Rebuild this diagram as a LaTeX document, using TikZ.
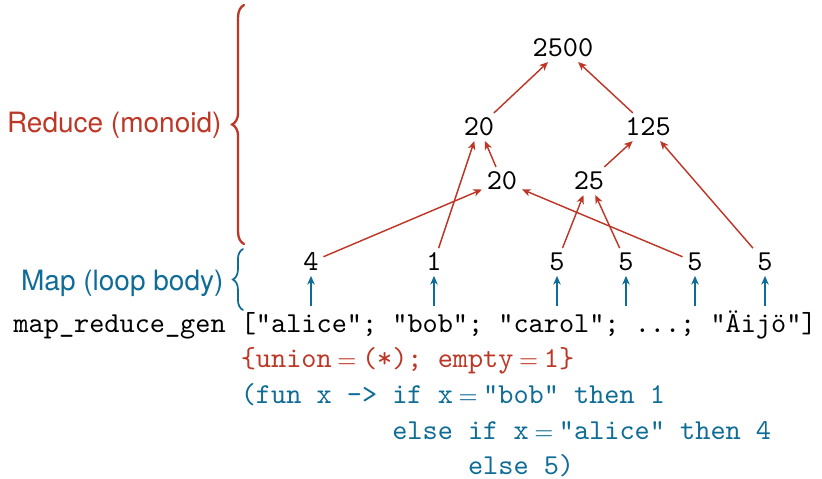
\documentclass[tikz,border=0pt]{standalone}
\usepackage{fontspec}
\newfontfamily\labelfont{TeX Gyre Heros}
\usetikzlibrary{arrows.meta,decorations.pathreplacing}
\definecolor{redc}{RGB}{189,55,38}
\definecolor{bluec}{RGB}{14,108,150}
\newcommand{\eqs}{\makebox[1.05em]{\fontsize{8.5}{8.5}\selectfont$=$}}
\begin{document}
\begin{tikzpicture}[x=0.3465pt,y=-0.3465pt,
  num/.style={font=\ttfamily, inner sep=1.5pt},
  code/.style={font=\ttfamily, inner sep=0pt, anchor=base west},
  lbl/.style={font=\labelfont\fontsize{9.7}{11}\selectfont, inner sep=0pt, anchor=base east},
  redarrow/.style={draw=redc, line width=0.5pt, -{Stealth[length=3pt,width=2.6pt,inset=0.9pt]}},
  bluearrow/.style={draw=bluec, line width=0.55pt, -{Stealth[length=3pt,width=2.6pt,inset=0.9pt]}},
  bracestyle/.style={decorate, line cap=round}]
\useasboundingbox (0,0) rectangle (822,478);

% tree numbers
\node[num] (top) at (563,48) {2500};
\node[num] (l) at (479,127) {20};
\node[num] (r) at (648,127) {125};
\node[num] (m) at (502,181) {20};
\node[num] (q) at (589,181) {25};
\node[num] (b1) at (311,262) {4};
\node[num] (b2) at (434,262) {1};
\node[num] (b3) at (557,262) {5};
\node[num] (b4) at (626,262) {5};
\node[num] (b5) at (695,262) {5};
\node[num] (b6) at (765,262) {5};

% reduce arrows
\draw[redarrow] (b1) -- (m);
\draw[redarrow] (b2) -- (l);
\draw[redarrow] (m) -- (l);
\draw[redarrow] (l) -- (top);
\draw[redarrow] (r) -- (top);
\draw[redarrow] (q) -- (r);
\draw[redarrow] (b3) -- (q);
\draw[redarrow] (b4) -- (q);
\draw[redarrow] (b5) -- (m);
\draw[redarrow] (b6) -- (r);

% map arrows
\foreach \i/\x in {1/311,2/434,3/557,4/626,5/695,6/765}{
  \coordinate (s\i) at (\x,306);
  \draw[bluearrow] (s\i) -- (b\i);
}

% code
\node[code] (c1) at (13,332) {map\_reduce\_gen ["alice"; "bob"; "carol"; ...; "Äijö"]};
\node[code, text=redc] (c2) at (240.25,367.5) {\{union\eqs(*); empty\eqs{}1\}};
\node[code, text=bluec] (c3) at (240.25,403) {(fun x -> if x\eqs"bob" then 1};
\node[code, text=bluec] (c4) at (391.75,439) {else if x\eqs"alice" then 4};
\node[code, text=bluec] (c5) at (467.5,474.5) {else 5)};

% braces
\coordinate (rb1) at (244,244);
\coordinate (rb2) at (244,5);
\draw[bracestyle, draw=redc, line width=0.8pt, decoration={brace, amplitude=4.1pt}] (rb1) -- (rb2);
\coordinate (bb1) at (243,310);
\coordinate (bb2) at (243,249);
\draw[bracestyle, draw=bluec, line width=0.6pt, decoration={brace, amplitude=3.5pt}] (bb1) -- (bb2);

% labels
\node[lbl, text=redc] (lr) at (222,132) {Reduce (monoid)};
\node[lbl, text=bluec] (lm) at (224,290) {Map (loop body)};
\end{tikzpicture}
\end{document}
